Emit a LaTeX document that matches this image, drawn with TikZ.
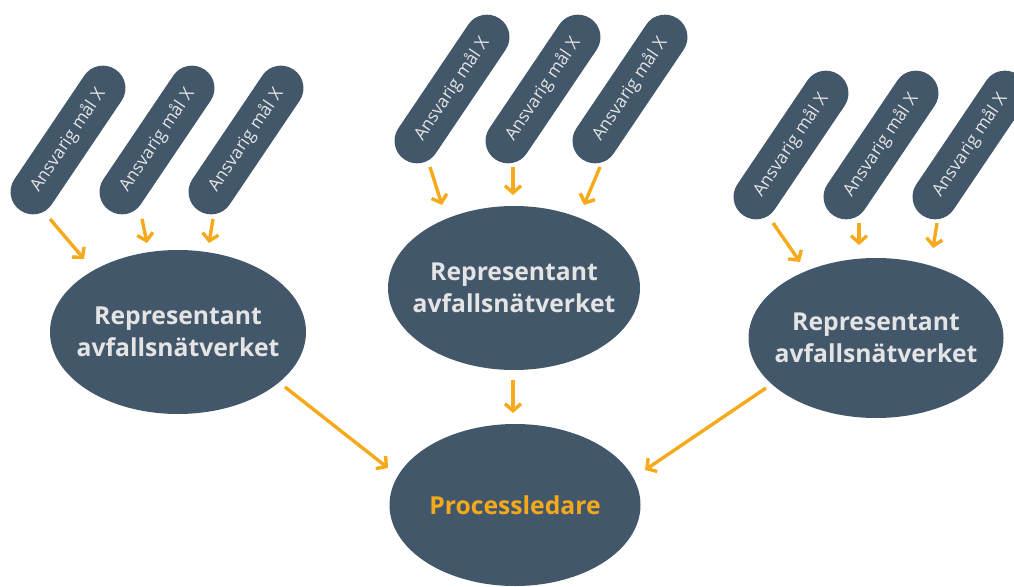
\documentclass[tikz,border=0pt]{standalone}
\usepackage{fontspec}
\setmainfont{Open Sans}
\usetikzlibrary{shapes.geometric,arrows.meta,calc}
\definecolor{slate}{HTML}{43576A}
\definecolor{amber}{HTML}{F6A91B}
\definecolor{lighttext}{HTML}{E4E4E4}
\tikzset{
  pill/.style={rectangle, rounded corners=22.4pt, fill=slate, minimum width=170pt, minimum height=45pt, inner sep=0pt, rotate=56, text=lighttext, font=\fontsize{17.5}{20}\selectfont},
  blob/.style={ellipse, fill=slate, inner xsep=-60pt, inner ysep=-30pt, text=lighttext, align=center, font=\bfseries\fontsize{24.7}{32}\selectfont},
  arr/.style={draw=amber, line width=3.4pt, -{Straight Barb[length=7pt,width=16pt]}}
}
\begin{document}
\begin{tikzpicture}[x=1pt,y=-1pt]
\useasboundingbox (0,0) rectangle (1014,586);
% pills
\node[pill] (L1) at (68,140) {Ansvarig mål X};
\node[pill] (L2) at (157,140) {Ansvarig mål X};
\node[pill] (L3) at (246,140) {Ansvarig mål X};
\node[pill] (M1) at (452,89) {Ansvarig mål X};
\node[pill] (M2) at (543,89) {Ansvarig mål X};
\node[pill] (M3) at (630,89) {Ansvarig mål X};
\node[pill] (R1) at (791,145) {Ansvarig mål X};
\node[pill] (R2) at (881,145) {Ansvarig mål X};
\node[pill] (R3) at (970,145) {Ansvarig mål X};
% ellipses
\node[blob, minimum width=256pt, minimum height=164pt] (L) at (178,332) {Representant\\avfallsnätverket};
\node[blob, minimum width=252pt, minimum height=164pt] (M) at (514,288) {Representant\\avfallsnätverket};
\node[blob, minimum width=255pt, minimum height=160pt] (R) at (876,338) {Representant\\avfallsnätverket};
\node[blob, minimum width=251pt, minimum height=162pt, text=amber] (P) at (515,505) {Processledare};
% arrows left group
\draw[arr] ($(L1)+(-18,79)$) -- ($(L)+(-94,-73)$);
\draw[arr] ($(L2)+(-15,79)$) -- ($(L)+(-31,-89)$);
\draw[arr] ($(L3)+(-33,79)$) -- ($(L)+(31,-89)$);
% arrows middle group
\draw[arr] ($(M1)+(-22,78)$) -- ($(M)+(-72,-83)$);
\draw[arr] ($(M2)+(-30,78)$) -- ($(M)+(-1,-93)$);
\draw[arr] ($(M3)+(-30,78)$) -- ($(M)+(70,-83)$);
% arrows right group
\draw[arr] ($(R1)+(-18,78)$) -- ($(R)+(-76,-76)$);
\draw[arr] ($(R2)+(-22,78)$) -- ($(R)+(-17,-93)$);
\draw[arr] ($(R3)+(-33,78)$) -- ($(R)+(57,-90)$);
% arrows to Processledare
\draw[arr] ($(L)+(107,55)$) -- ($(P)+(-127,-37)$);
\draw[arr] ($(M)+(-1,92)$) -- ($(P)+(-2,-92)$);
\draw[arr] ($(R)+(-110,50)$) -- ($(P)+(130,-35)$);
\end{tikzpicture}
\end{document}
